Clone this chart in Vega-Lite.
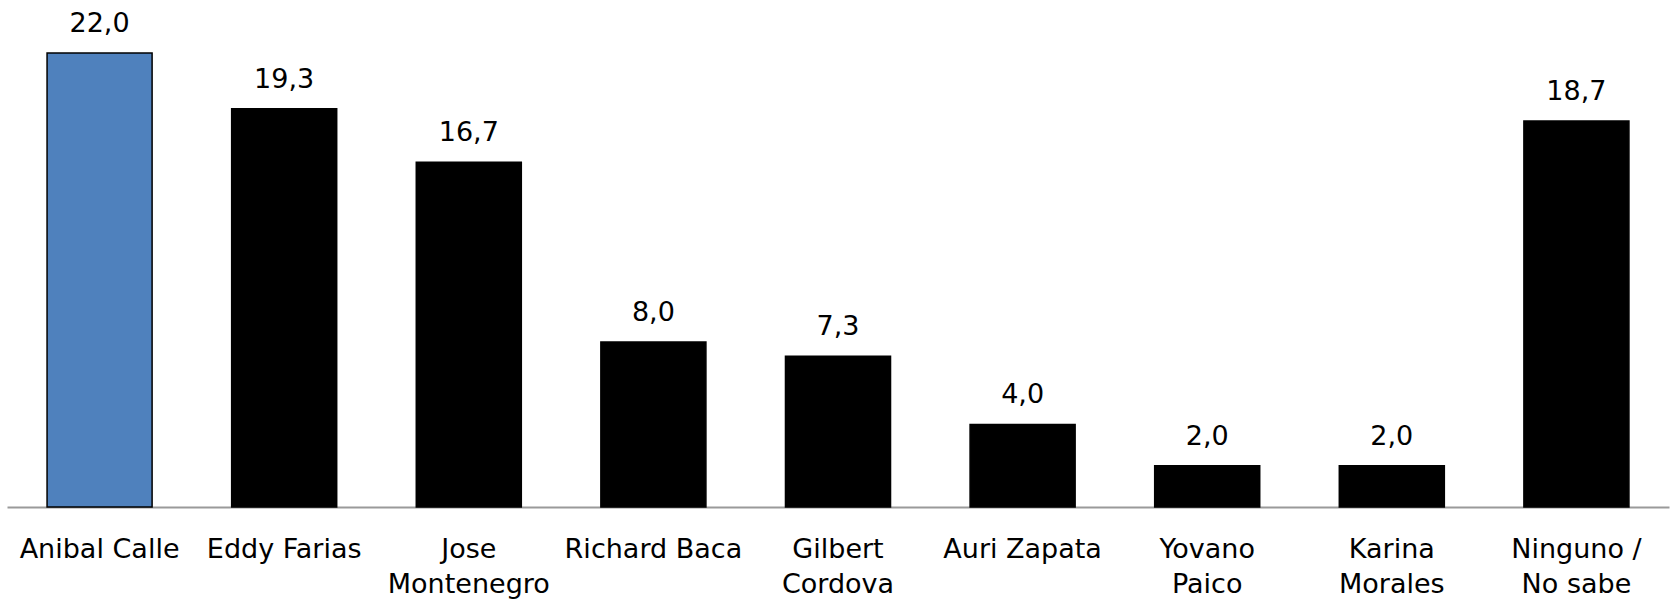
{
  "$schema": "https://vega.github.io/schema/vega-lite/v6.json",
  "autosize": {"type": "none"},
  "width": 1662,
  "height": 454,
  "padding": {"left": 7, "top": 53, "right": 3, "bottom": 95},
  "background": "white",
  "config": {
    "view": {"stroke": null},
    "locale": {"number": {"decimal": ",", "thousands": ".", "grouping": [3], "currency": ["", ""]}}
  },
  "data": {
    "values": [
      {"candidato": "Anibal Calle", "pct": 22.0},
      {"candidato": "Eddy Farias", "pct": 19.3},
      {"candidato": "Jose Montenegro", "pct": 16.7},
      {"candidato": "Richard Baca", "pct": 8.0},
      {"candidato": "Gilbert Cordova", "pct": 7.3},
      {"candidato": "Auri Zapata", "pct": 4.0},
      {"candidato": "Yovano Paico", "pct": 2.0},
      {"candidato": "Karina Morales", "pct": 2.0},
      {"candidato": "Ninguno / No sabe", "pct": 18.7}
    ]
  },
  "encoding": {
    "x": {
      "field": "candidato",
      "type": "nominal",
      "sort": null,
      "scale": {"paddingInner": 0.431, "paddingOuter": 0.217},
      "axis": {
        "title": null,
        "ticks": false,
        "grid": false,
        "domain": true,
        "domainColor": "#9a9a9a",
        "domainWidth": 2,
        "labelAngle": 0,
        "labelFont": "DejaVu Sans",
        "labelFontSize": 27,
        "labelColor": "black",
        "labelBaseline": "top",
        "labelPadding": 29,
        "labelLineHeight": 35,
        "labelLimit": 300,
        "labelExpr": "datum.value == 'Ninguno / No sabe' ? ['Ninguno /', 'No sabe'] : (indexof(['Jose Montenegro','Gilbert Cordova','Yovano Paico','Karina Morales'], datum.value) >= 0 ? split(datum.value, ' ') : datum.value)"
      }
    },
    "y": {
      "field": "pct",
      "type": "quantitative",
      "scale": {"domain": [0, 22], "nice": false},
      "axis": null
    }
  },
  "layer": [
    {
      "mark": {"type": "bar", "strokeWidth": 1.5, "stroke": "black"},
      "encoding": {
        "color": {
          "condition": {"test": "datum.candidato == 'Anibal Calle'", "value": "#4f81bd"},
          "value": "black"
        }
      }
    },
    {
      "mark": {"type": "text", "baseline": "alphabetic", "dy": -21, "font": "DejaVu Sans", "fontSize": 27, "color": "black"},
      "encoding": {
        "text": {"field": "pct", "type": "quantitative", "format": ".1f"}
      }
    }
  ]
}
